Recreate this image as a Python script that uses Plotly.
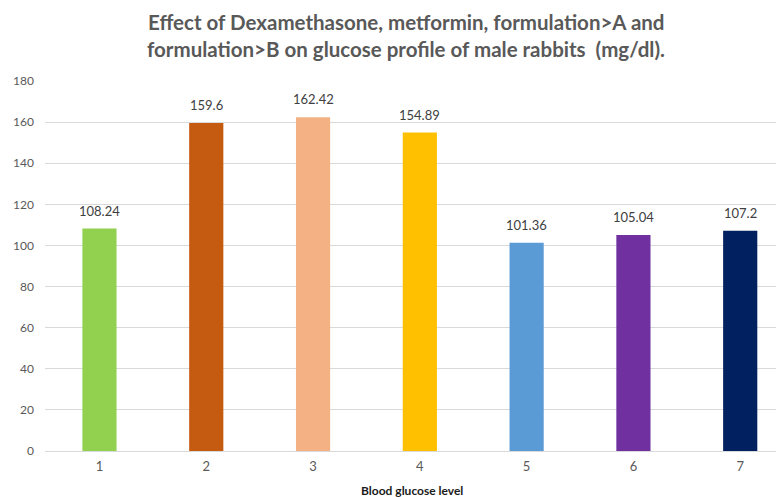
import plotly.graph_objects as go

categories = ["1", "2", "3", "4", "5", "6", "7"]
values = [108.24, 159.6, 162.42, 154.89, 101.36, 105.04, 107.2]
labels = ["108.24", "159.6", "162.42", "154.89", "101.36", "105.04", "107.2"]
colors = ["#92D050", "#C55A11", "#F4B183", "#FFC000", "#5B9BD5", "#7030A0", "#002060"]
y_ticks = [0, 20, 40, 60, 80, 100, 120, 140, 160, 180]
title_lines = [
    "Effect of Dexamethasone, metformin, formulation&gt;A and",
    "formulation&gt;B on glucose profile of male rabbits  (mg/dl).",
]

# the page body adds an 8px offset; margins compensate for it
OFF = 8
L, T = 45 - OFF, 81 - OFF
B = 497 - (451 - OFF)
R = OFF

fig = go.Figure()
fig.add_trace(go.Bar(
    x=list(range(len(categories))),
    y=values,
    marker=dict(color=colors, line=dict(width=0)),
    width=0.32,
    hoverinfo="skip",
))

for i, (v, t) in enumerate(zip(values, labels)):
    fig.add_annotation(
        x=i, y=v, text=t, showarrow=False,
        xanchor="center", yanchor="bottom", yshift=8,
        font=dict(family="Lato, sans-serif", size=13, color="#404040"),
    )

for k, line in enumerate(title_lines):
    fig.add_annotation(
        x=(406 - 45) / 739, y=1, xref="paper", yref="paper",
        text="<b>" + line + "</b>", showarrow=False,
        xanchor="center", yanchor="middle",
        yshift=81 - (22 + 27 * k),
        font=dict(family="Lato, sans-serif", size=20.5, color="#595959"),
    )

fig.add_annotation(
    x=(412 - 45) / 739, y=0, xref="paper", yref="paper",
    text="<b>Blood glucose level</b>", showarrow=False,
    xanchor="center", yanchor="top", yshift=-30,
    font=dict(family="Lato, sans-serif", size=12, color="#1a1a1a"),
)

fig.update_layout(
    width=784, height=497,
    margin=dict(l=L, r=R, t=T, b=B, autoexpand=False),
    paper_bgcolor="white", plot_bgcolor="white",
    showlegend=False,
    xaxis=dict(
        range=[-0.51, 6.41],
        tickmode="array",
        tickvals=list(range(len(categories))),
        ticktext=categories,
        showgrid=False, zeroline=False, showline=False,
        ticks="", ticklabelstandoff=6, automargin=False,
        tickfont=dict(family="Lato, sans-serif", size=13, color="#595959"),
    ),
    yaxis=dict(
        range=[0, 180],
        tickmode="array",
        tickvals=y_ticks,
        showgrid=True, gridcolor="#D9D9D9", gridwidth=1,
        zeroline=True, zerolinecolor="#D9D9D9", zerolinewidth=1,
        showline=False, ticks="", ticklabelstandoff=10, automargin=False,
        tickfont=dict(family="Lato, sans-serif", size=12, color="#595959"),
    ),
)

fig.write_html("out.html")
